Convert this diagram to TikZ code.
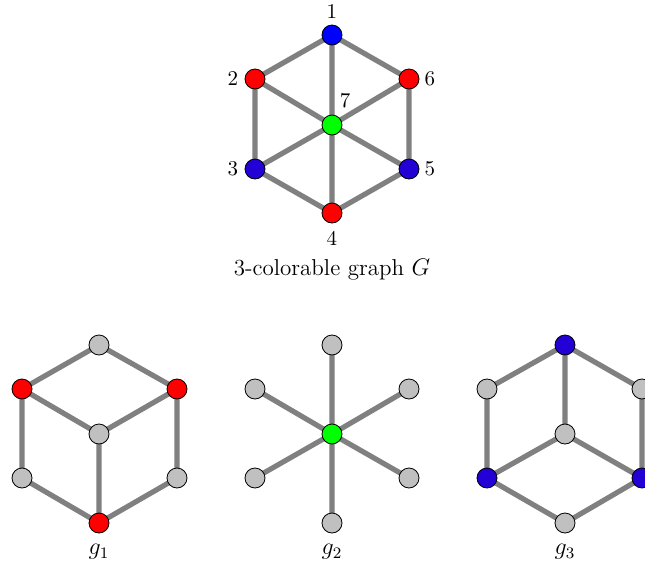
\documentclass[tikz,border=0pt]{standalone}
\usetikzlibrary{backgrounds}
\definecolor{pblue}{RGB}{34,0,214}
\definecolor{ngray}{RGB}{192,192,192}
\definecolor{egray}{RGB}{128,128,128}
\tikzset{
  vtx/.style={circle,draw=black,line width=0.4pt,minimum size=10pt,inner sep=0pt},
  edge/.style={draw=egray,line width=2.6pt},
  lbl/.style={font=\fontsize{10.5}{12}\selectfont,inner sep=0pt},
  glbl/.style={font=\fontsize{11.5}{13}\selectfont,inner sep=0pt},
}
\begin{document}
\begin{tikzpicture}[x=0.5pt,y=-0.5pt]
\useasboundingbox (0,0) rectangle (645,569);
% top graph
\node[vtx,fill=blue]  (n1) at (332,35) {};
\node[vtx,fill=red]   (n2) at (255,79) {};
\node[vtx,fill=red]   (n6) at (409,79) {};
\node[vtx,fill=green] (n7) at (332,125) {};
\node[vtx,fill=pblue] (n3) at (255,169) {};
\node[vtx,fill=pblue] (n5) at (409,169) {};
\node[vtx,fill=red]   (n4) at (332,213) {};
\node[lbl] (l1) at (332,12) {1};
\node[lbl] (l2) at (233,79) {2};
\node[lbl] (l6) at (430,79) {6};
\node[lbl] (l7) at (345,101) {7};
\node[lbl] (l3) at (233,169) {3};
\node[lbl] (l5) at (430,169) {5};
\node[lbl] (l4) at (332,238) {4};
\node[glbl] (title) at (332,270) {3-colorable graph $G$};
% g1
\node[vtx,fill=ngray] (a1) at (99,345) {};
\node[vtx,fill=red]   (a2) at (22,389) {};
\node[vtx,fill=red]   (a6) at (177,389) {};
\node[vtx,fill=ngray] (a7) at (99,434) {};
\node[vtx,fill=ngray] (a3) at (22,478) {};
\node[vtx,fill=ngray] (a5) at (177,478) {};
\node[vtx,fill=red]   (a4) at (99,523) {};
\node[glbl] (ga) at (99,552) {$g_1$};
% g2
\node[vtx,fill=ngray] (b1) at (332,345) {};
\node[vtx,fill=ngray] (b2) at (255,389) {};
\node[vtx,fill=ngray] (b6) at (409,389) {};
\node[vtx,fill=green] (b7) at (332,434) {};
\node[vtx,fill=ngray] (b3) at (255,478) {};
\node[vtx,fill=ngray] (b5) at (409,478) {};
\node[vtx,fill=ngray] (b4) at (332,523) {};
\node[glbl] (gb) at (332,552) {$g_2$};
% g3
\node[vtx,fill=pblue] (c1) at (565,345) {};
\node[vtx,fill=ngray] (c2) at (487,389) {};
\node[vtx,fill=ngray] (c6) at (642,389) {};
\node[vtx,fill=ngray] (c7) at (565,434) {};
\node[vtx,fill=pblue] (c3) at (487,478) {};
\node[vtx,fill=pblue] (c5) at (642,478) {};
\node[vtx,fill=ngray] (c4) at (565,523) {};
\node[glbl] (gc) at (565,552) {$g_3$};
\begin{scope}[on background layer]
\path[edge] (n1.center)--(n2.center) (n1.center)--(n6.center) (n2.center)--(n3.center)
  (n6.center)--(n5.center) (n3.center)--(n4.center) (n5.center)--(n4.center)
  (n1.center)--(n7.center) (n2.center)--(n7.center) (n6.center)--(n7.center)
  (n3.center)--(n7.center) (n5.center)--(n7.center) (n4.center)--(n7.center);
\path[edge] (a1.center)--(a2.center) (a1.center)--(a6.center) (a2.center)--(a3.center)
  (a6.center)--(a5.center) (a3.center)--(a4.center) (a5.center)--(a4.center)
  (a2.center)--(a7.center) (a6.center)--(a7.center) (a7.center)--(a4.center);
\path[edge] (b7.center)--(b1.center) (b7.center)--(b2.center) (b7.center)--(b6.center)
  (b7.center)--(b3.center) (b7.center)--(b5.center) (b7.center)--(b4.center);
\path[edge] (c1.center)--(c2.center) (c1.center)--(c6.center) (c2.center)--(c3.center)
  (c6.center)--(c5.center) (c3.center)--(c4.center) (c5.center)--(c4.center)
  (c1.center)--(c7.center) (c7.center)--(c3.center) (c7.center)--(c5.center);
\end{scope}
\end{tikzpicture}
\end{document}
